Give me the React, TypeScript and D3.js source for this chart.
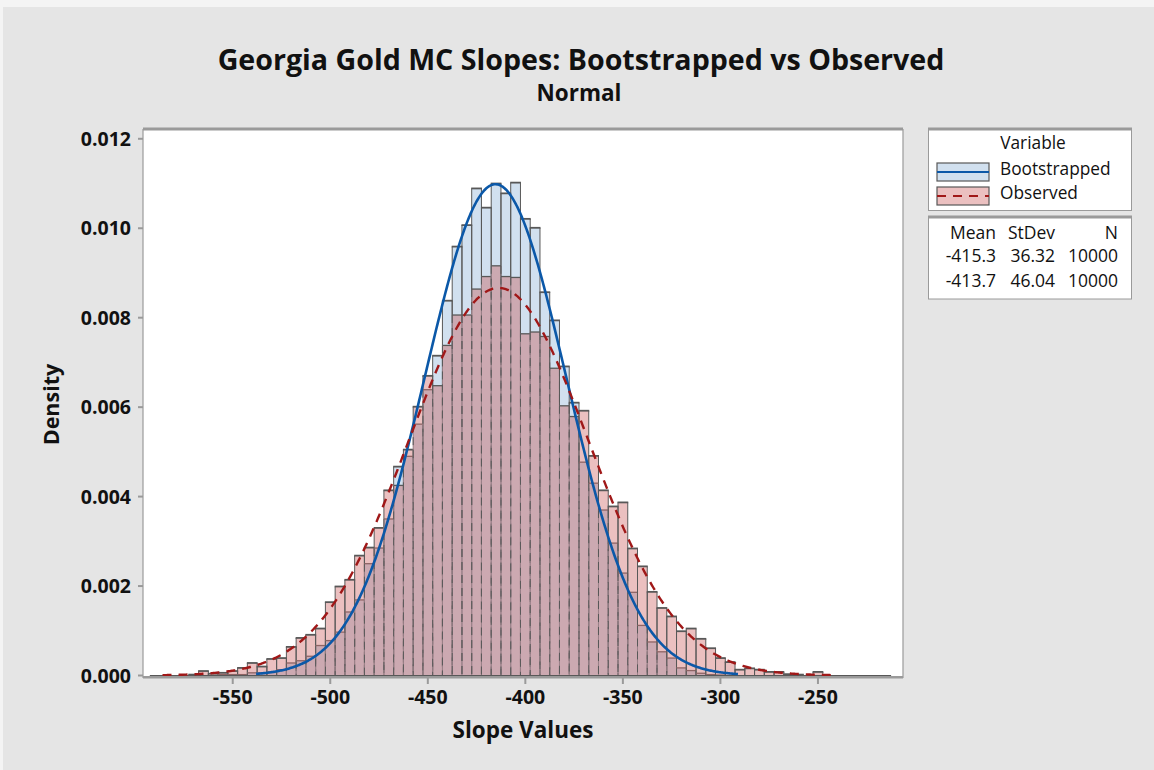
import React from 'react';
import * as d3 from 'd3';

// ---------- data ----------
const binMidpoints = [
  -590, -585, -580, -575, -570, -565, -560, -555, -550, -545,
  -540, -535, -530, -525, -520, -515, -510, -505, -500, -495,
  -490, -485, -480, -475, -470, -465, -460, -455, -450, -445,
  -440, -435, -430, -425, -420, -415, -410, -405, -400, -395,
  -390, -385, -380, -375, -370, -365, -360, -355, -350, -345,
  -340, -335, -330, -325, -320, -315, -310, -305, -300, -295,
  -290, -285, -280, -275, -270, -265, -260, -255, -250, -245,
  -240, -235, -230, -225, -220, -215,
];

const bootstrappedDensity = [
  0, 0, 0, 0, 0, 0, 0, 0.00002, 0.00002, 0.00002,
  0.00006, 0.00006, 0.00008, 0.00013, 0.00028, 0.00033, 0.00043, 0.00067, 0.00078, 0.00097,
  0.00142, 0.00169, 0.0025, 0.00285, 0.0035, 0.00467, 0.0049, 0.00562, 0.00639, 0.00715,
  0.00838, 0.00959, 0.01007, 0.01089, 0.01046, 0.011, 0.01078, 0.01102, 0.01021, 0.01001,
  0.00857, 0.00794, 0.00691, 0.0061, 0.00477, 0.0043, 0.0037, 0.00296, 0.00229, 0.00186,
  0.00112, 0.00075, 0.00053, 0.00039, 0.00017, 0.00011, 0.00005, 0.00002, 0.00001, 0,
  0, 0, 0, 0, 0, 0, 0, 0, 0, 0,
  0, 0, 0, 0, 0, 0,
];

const observedDensity = [
  0, 0, 0, 0, 0.00002, 0.0001, 0.00004, 0.00006, 0.0001, 0.00017,
  0.00028, 0.0002, 0.00037, 0.00039, 0.00064, 0.00084, 0.00091, 0.00105, 0.00164, 0.00199,
  0.00214, 0.00268, 0.00286, 0.0033, 0.00414, 0.00425, 0.00505, 0.00601, 0.0067, 0.00648,
  0.00738, 0.00806, 0.00806, 0.00864, 0.00892, 0.00916, 0.00892, 0.0089, 0.00764, 0.00768,
  0.00758, 0.00687, 0.00603, 0.00579, 0.00592, 0.00491, 0.00414, 0.00378, 0.00387, 0.00284,
  0.00244, 0.00187, 0.00151, 0.00132, 0.00099, 0.00105, 0.00082, 0.00061, 0.00039, 0.0003,
  0.00013, 0.00016, 0.00013, 0.00008, 0.00008, 0.00003, 0.00002, 0, 0.00008, 0,
  0, 0, 0, 0, 0, 0,
];

const seriesNames = ['Bootstrapped', 'Observed'];
const seriesMeans = [-415.3, -413.7];
const seriesStDevs = [36.32, 46.04];
const seriesN = [10000, 10000];
const meanLabels = ['-415.3', '-413.7'];
const stdevLabels = ['36.32', '46.04'];
const curveExtents = [[-538, -291], [-586, -242]];

const xTicks = [-550, -500, -450, -400, -350, -300, -250];
const yTicks = [0, 0.002, 0.004, 0.006, 0.008, 0.01, 0.012];

const BIN_WIDTH = 5;

// ---------- style ----------
const W = 1154;
const H = 770;
const BG = '#e5e5e5';
const FRAME = '#9a9a9a';
const OUTLINE = '#585858';
const BLUE_FILL = '#d1e0ef';
const PINK_FILL = '#ebc0c0';
const OVERLAP_FILL = '#cca9b1';
const BLUE_LINE = '#0b58a8';
const RED_LINE = '#a01818';
const FONT = "'Open Sans', 'Noto Sans', 'DejaVu Sans', sans-serif";

const plot = { left: 143, right: 903, top: 129, bottom: 676 };

export default function App() {
  const x = d3.scaleLinear().domain([-596, -206.4]).range([plot.left, plot.right]);
  const y = d3.scaleLinear().domain([0, 0.012219]).range([675.5, plot.top]);

  const bins = binMidpoints.map((c, i) => {
    const b = bootstrappedDensity[i];
    const p = observedDensity[i];
    return { c, b, p, hi: Math.max(b, p), lo: Math.min(b, p), blueTaller: b >= p };
  });

  const normal = (v: number, m: number, s: number) =>
    Math.exp(-0.5 * ((v - m) / s) ** 2) / (s * Math.sqrt(2 * Math.PI));

  const curves = seriesNames.map((_, k) => {
    const [a, bEnd] = curveExtents[k];
    const pts: [number, number][] = [];
    for (let v = a; v <= bEnd + 1e-9; v += 0.5) pts.push([v, normal(v, seriesMeans[k], seriesStDevs[k])]);
    return d3.line<[number, number]>().x((d) => x(d[0])).y((d) => y(d[1]))(pts) || '';
  });

  const y0 = y(0);

  return (
    <svg
      width={W}
      height={H}
      style={{ position: 'absolute', left: 0, top: 0, display: 'block' }}
      fontFamily={FONT}
    >
      <rect x={0} y={0} width={W} height={H} fill="#f4f4f4" />
      <rect x={3} y={7} width={W - 3} height={H - 7} fill={BG} />

      {/* Titles */}
      <text x={581} y={70} textAnchor="middle" fontSize={28.6} fontWeight="bold" fill="#111">
        Georgia Gold MC Slopes: Bootstrapped vs Observed
      </text>
      <text x={579} y={101} textAnchor="middle" fontSize={22.5} fontWeight="bold" fill="#111">
        Normal
      </text>

      {/* Plot area */}
      <rect x={plot.left} y={plot.top} width={plot.right - plot.left} height={plot.bottom - plot.top} fill="#fff" />

      {/* Bar fills */}
      {bins.map((d, i) => {
        const x0 = x(d.c - BIN_WIDTH / 2);
        const x1 = x(d.c + BIN_WIDTH / 2);
        return (
          <g key={'f' + i}>
            {d.hi > 0 && (
              <rect x={x0} y={y(d.hi)} width={x1 - x0} height={y0 - y(d.hi)} fill={d.blueTaller ? BLUE_FILL : PINK_FILL} />
            )}
            {d.lo > 0 && <rect x={x0} y={y(d.lo)} width={x1 - x0} height={y0 - y(d.lo)} fill={OVERLAP_FILL} />}
          </g>
        );
      })}

      {/* Bar outlines */}
      {bins.map((d, i) => {
        const x0 = x(d.c - BIN_WIDTH / 2);
        const x1 = x(d.c + BIN_WIDTH / 2);
        if (d.hi <= 0) return null;
        const yHi = y(d.hi);
        const yLo = d.lo > 0 ? y(d.lo) : y0;
        return (
          <g key={'o' + i}>
            <line x1={x0} x2={x0} y1={yHi} y2={yLo} stroke={OUTLINE} strokeWidth={1} />
            <line x1={x1} x2={x1} y1={yHi} y2={yLo} stroke={OUTLINE} strokeWidth={1} />
            <line x1={x0 - 0.5} x2={x1 + 0.5} y1={yHi} y2={yHi} stroke={OUTLINE} strokeWidth={1.8} />
            {d.lo > 0 && (
              <g>
                <line x1={x0} x2={x0} y1={yLo} y2={y0} stroke="#9a8088" strokeWidth={1} />
                <line x1={x1} x2={x1} y1={yLo} y2={y0} stroke="#9a8088" strokeWidth={1} />
                <line x1={x0} x2={x0} y1={yLo} y2={y0} stroke={OUTLINE} strokeWidth={1} strokeDasharray="8,5" />
                <line x1={x1} x2={x1} y1={yLo} y2={y0} stroke={OUTLINE} strokeWidth={1} strokeDasharray="8,5" />
                {d.lo < d.hi && (
                  <line
                    x1={x0}
                    x2={x1}
                    y1={yLo}
                    y2={yLo}
                    stroke={d.blueTaller ? OUTLINE : '#8e6464'}
                    strokeWidth={1.3}
                  />
                )}
              </g>
            )}
          </g>
        );
      })}

      {/* Baseline of bins */}
      <line
        x1={x(binMidpoints[0] - BIN_WIDTH / 2)}
        x2={x(binMidpoints[binMidpoints.length - 1] + BIN_WIDTH / 2)}
        y1={y0}
        y2={y0}
        stroke={OUTLINE}
        strokeWidth={1.2}
      />

      {/* Fitted normal curves */}
      <path d={curves[0]} fill="none" stroke={BLUE_LINE} strokeWidth={2.6} />
      <path d={curves[1]} fill="none" stroke={RED_LINE} strokeWidth={2.4} strokeDasharray="9,7" />

      {/* Frame */}
      <line x1={plot.left} x2={plot.left} y1={plot.top} y2={plot.bottom + 2} stroke={FRAME} strokeWidth={1.2} />
      <line x1={plot.right} x2={plot.right} y1={plot.top} y2={plot.bottom + 2} stroke={FRAME} strokeWidth={1.2} />
      <line x1={plot.left} x2={plot.right} y1={plot.top} y2={plot.top} stroke={FRAME} strokeWidth={3} />
      <line x1={plot.left} x2={plot.right} y1={plot.bottom + 1.3} y2={plot.bottom + 1.3} stroke={FRAME} strokeWidth={2.6} />

      {/* Y axis */}
      {yTicks.map((t) => (
        <g key={'yt' + t}>
          <line x1={plot.left - 5} x2={plot.left} y1={y(t)} y2={y(t)} stroke={FRAME} strokeWidth={2} />
          <text x={131} y={y(t)} dy="0.36em" textAnchor="end" fontSize={19.5} fontWeight="bold" fill="#111">
            {t.toFixed(3)}
          </text>
        </g>
      ))}
      <text
        transform={`translate(59, ${(plot.top + plot.bottom) / 2 + 2}) rotate(-90)`}
        textAnchor="middle"
        fontSize={21.5}
        fontWeight="bold"
        fill="#111"
      >
        Density
      </text>

      {/* X axis */}
      {xTicks.map((t) => (
        <g key={'xt' + t}>
          <line x1={x(t)} x2={x(t)} y1={plot.bottom + 2} y2={plot.bottom + 8} stroke={FRAME} strokeWidth={2} />
          <text x={x(t)} y={704} textAnchor="middle" fontSize={19.5} fontWeight="bold" fill="#111">
            {t}
          </text>
        </g>
      ))}
      <text x={523} y={738} textAnchor="middle" fontSize={22.5} fontWeight="bold" fill="#111">
        Slope Values
      </text>

      {/* Legend */}
      <rect x={928.5} y={129.5} width={203} height={81} fill="#fff" stroke={FRAME} strokeWidth={1} />
      <line x1={928} x2={1132} y1={129} y2={129} stroke={FRAME} strokeWidth={3} />
      <text x={1033} y={149} textAnchor="middle" fontSize={17.3} fill="#111">
        Variable
      </text>
      {seriesNames.map((name, k) => {
        const top = k === 0 ? 163 : 187;
        return (
          <g key={name}>
            <rect x={937} y={top} width={52} height={18} fill={k === 0 ? BLUE_FILL : PINK_FILL} stroke={OUTLINE} strokeWidth={1.2} />
            <line
              x1={937}
              x2={989}
              y1={top + 9}
              y2={top + 9}
              stroke={k === 0 ? BLUE_LINE : RED_LINE}
              strokeWidth={2}
              strokeDasharray={k === 0 ? undefined : '9,7'}
            />
            <text x={1000} y={top + 12} fontSize={17.3} fill="#111">
              {name}
            </text>
          </g>
        );
      })}

      <rect x={928.5} y={217.5} width={203} height={81.5} fill="#fff" stroke={FRAME} strokeWidth={1} />
      <line x1={928} x2={1132} y1={217} y2={217} stroke={FRAME} strokeWidth={3} />
      <g fontSize={17.5} fill="#111" textAnchor="end">
        <text x={996} y={239}>Mean</text>
        <text x={1055} y={239}>StDev</text>
        <text x={1118} y={239}>N</text>
        {seriesNames.map((name, k) => (
          <g key={'s' + name}>
            <text x={996} y={262 + k * 25}>{meanLabels[k]}</text>
            <text x={1055} y={262 + k * 25}>{stdevLabels[k]}</text>
            <text x={1118} y={262 + k * 25}>{seriesN[k]}</text>
          </g>
        ))}
      </g>
    </svg>
  );
}
